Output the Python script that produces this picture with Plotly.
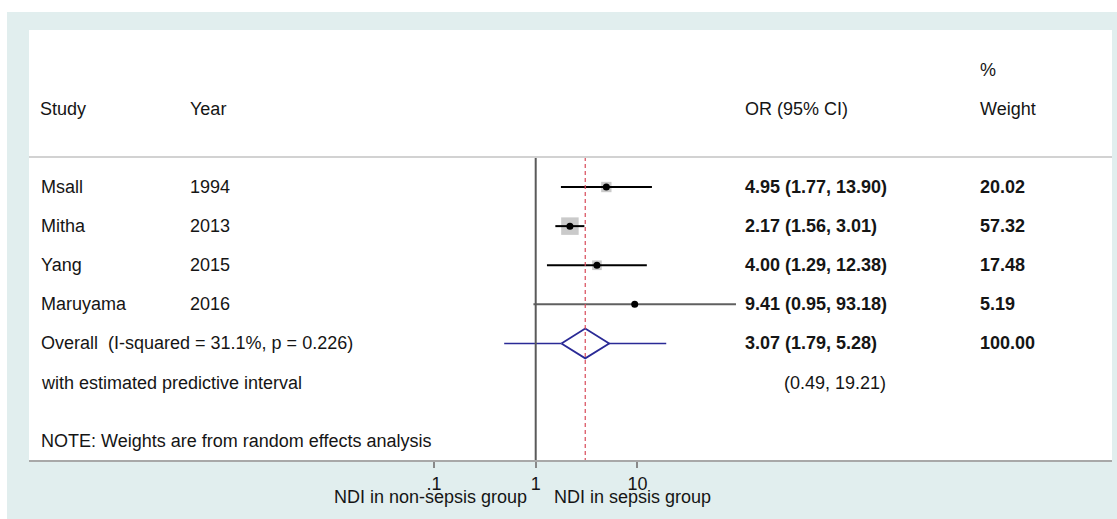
import plotly.graph_objects as go
import math

# ---------------- data ----------------
studies = ["Msall", "Mitha", "Yang", "Maruyama"]
years = ["1994", "2013", "2015", "2016"]
or_est = [4.95, 2.17, 4.00, 9.41]
ci_lo = [1.77, 1.56, 1.29, 0.95]
ci_hi = [13.90, 3.01, 12.38, 93.18]
weights = [20.02, 57.32, 17.48, 5.19]
ci_text = ["4.95 (1.77, 13.90)", "2.17 (1.56, 3.01)", "4.00 (1.29, 12.38)", "9.41 (0.95, 93.18)"]
weight_text = ["20.02", "57.32", "17.48", "5.19"]

overall_est = 3.07
overall_lo = 1.79
overall_hi = 5.28
overall_label = "Overall  (I-squared = 31.1%, p = 0.226)"
overall_ci_text = "3.07 (1.79, 5.28)"
overall_weight_text = "100.00"
pred_lo = 0.49
pred_hi = 19.21
pred_label = "with estimated predictive interval"
pred_text = "(0.49, 19.21)"
note_text = "NOTE: Weights are from random effects analysis"

tick_vals = [0.1, 1, 10]
tick_text = [".1", "1", "10"]
left_axis_label = "NDI in non-sepsis group"
right_axis_label = "NDI in sepsis group"

# ---------------- layout constants ----------------
W, H = 1117, 519
ML, MR, MT, MB = 29, 5, 30, 59
PW = W - ML - MR
PH = H - MT - MB
FONT = "Liberation Sans, Arial, sans-serif"
TXT = "#151515"
NAVY = "#2a2a96"
TEAL = "#e1eeee"

n = len(studies)
rows = list(range(n))
overall_row = n
pred_row = n + 1
note_row = 6.49
header_row = -2
pct_row = -3
hline_row = -0.767
y_top, y_bot = -4.015, 6.98


def px(x):
    return (x - ML) / PW


fig = go.Figure()

# weight boxes
box_scale = 17.5 / math.sqrt(max(weights))
fig.add_trace(go.Scatter(
    x=or_est, y=rows, mode="markers",
    marker=dict(symbol="square", size=[box_scale * math.sqrt(w) for w in weights],
                color="#b3b3b3", line=dict(width=0)),
    hoverinfo="skip", showlegend=False))

# CI lines
for i in range(n):
    col = "#606060" if ci_lo[i] < 1 else "#000000"
    fig.add_trace(go.Scatter(
        x=[ci_lo[i], ci_hi[i]], y=[rows[i], rows[i]], mode="lines",
        line=dict(color=col, width=2), hoverinfo="skip", showlegend=False))

# point estimates
fig.add_trace(go.Scatter(
    x=or_est, y=rows, mode="markers",
    marker=dict(symbol="circle", size=7, color="#000000"),
    hoverinfo="skip", showlegend=False))

# predictive interval segments
fig.add_trace(go.Scatter(
    x=[pred_lo, overall_lo, None, overall_hi, pred_hi],
    y=[overall_row, overall_row, None, overall_row, overall_row],
    mode="lines", line=dict(color=NAVY, width=1.5),
    hoverinfo="skip", showlegend=False))

# overall diamond
dh = 0.38
fig.add_trace(go.Scatter(
    x=[overall_lo, overall_est, overall_hi, overall_est, overall_lo],
    y=[overall_row, overall_row - dh, overall_row, overall_row + dh, overall_row],
    mode="lines", line=dict(color=NAVY, width=1.8),
    hoverinfo="skip", showlegend=False))

shapes = []
# null line (x = 1)
shapes.append(dict(type="line", xref="x", yref="y", x0=1, x1=1, y0=hline_row, y1=y_bot,
                   line=dict(color="#5a5a5a", width=2)))
# overall effect dashed line
shapes.append(dict(type="line", xref="x", yref="y", x0=overall_est, x1=overall_est,
                   y0=hline_row, y1=y_bot, line=dict(color="#d84a5a", width=1.2, dash="4px,3px")))
# header separator
shapes.append(dict(type="line", xref="paper", yref="y", x0=0, x1=1, y0=hline_row, y1=hline_row,
                   line=dict(color="#d2d2d2", width=2)))
# white borders outside teal frame
shapes.append(dict(type="rect", xref="paper", yref="paper", x0=-ML / PW, x1=(W - ML) / PW,
                   y0=1 + MT / PH, y1=1 + (MT - 12) / PH, fillcolor="white", line=dict(width=0)))
shapes.append(dict(type="rect", xref="paper", yref="paper", x0=-ML / PW, x1=(7 - ML) / PW,
                   y0=-MB / PH, y1=1 + MT / PH, fillcolor="white", line=dict(width=0)))

ann = []


def text(x, y, s, anchor="left", yref="y", size=18, weight="normal", color=TXT):
    ann.append(dict(x=x, y=y, xref="paper", yref=yref, text=s, showarrow=False,
                    xanchor=anchor, yanchor="middle",
                    font=dict(family=FONT, size=size, color=color, weight=weight)))


# headers
text(px(38), header_row, "Study")
text(px(188), header_row, "Year")
text(px(743), header_row, "OR (95% CI)")
text(px(978), pct_row, "%")
text(px(978), header_row, "Weight")

for i in range(n):
    text(px(39), rows[i], studies[i])
    text(px(188), rows[i], years[i])
    text(px(743), rows[i], ci_text[i], weight="bold")
    text(px(978), rows[i], weight_text[i], weight="bold")

text(px(39), overall_row, overall_label)
text(px(743), overall_row, overall_ci_text, weight="bold")
text(px(978), overall_row, overall_weight_text, weight="bold")
text(px(39), pred_row, pred_label)
text(px(888), pred_row, pred_text, anchor="right")
text(px(39), note_row, note_text)

# axis labels
ann.append(dict(x=0, y=-(497 - (MT + PH)) / PH, xref="x", yref="paper", text=left_axis_label,
                showarrow=False, xanchor="right", yanchor="middle", xshift=-7,
                font=dict(family=FONT, size=18, color=TXT)))
ann.append(dict(x=0, y=-(497 - (MT + PH)) / PH, xref="x", yref="paper", text=right_axis_label,
                showarrow=False, xanchor="left", yanchor="middle", xshift=16,
                font=dict(family=FONT, size=18, color=TXT)))

fig.update_layout(
    width=W, height=H,
    margin=dict(l=ML, r=MR, t=MT, b=MB, pad=0),
    paper_bgcolor=TEAL, plot_bgcolor="white",
    showlegend=False,
    shapes=shapes, annotations=ann,
    xaxis=dict(type="log", range=[(ML - 535.7) / 101.7, (W - MR - 535.7) / 101.7],
               tickvals=tick_vals, ticktext=tick_text, ticks="outside", ticklen=6,
               tickcolor="#888888", tickwidth=2, showline=True, linecolor="#a8a8a8", linewidth=2,
               showgrid=False, zeroline=False,
               tickfont=dict(family=FONT, size=18, color=TXT)),
    yaxis=dict(range=[y_bot, y_top], visible=False, showgrid=False, zeroline=False),
)

fig.write_html("out.html")
